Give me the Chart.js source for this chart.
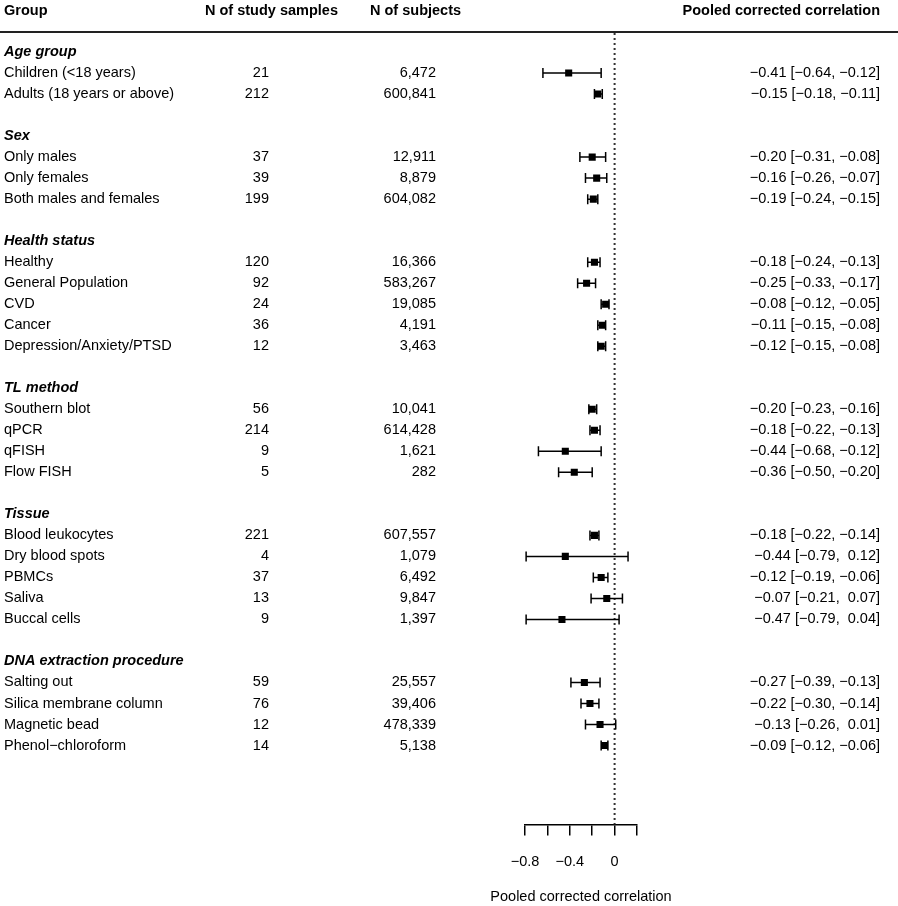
<!DOCTYPE html>
<html>
<head>
<meta charset="utf-8">
<script src="https://cdn.jsdelivr.net/npm/chart.js@4.4.1/dist/chart.umd.min.js"></script>
<style>
  html, body { margin: 0; padding: 0; background: #ffffff; }
  #wrap { width: 898px; height: 906px; }
</style>
</head>
<body>
<div id="wrap"><canvas id="c" width="898" height="906"></canvas></div>
<script>
// ---------------- DATA ----------------
const sections = ["Age group", "Sex", "Health status", "TL method", "Tissue", "DNA extraction procedure"];
const categories = [
  "Children (<18 years)", "Adults (18 years or above)",
  "Only males", "Only females", "Both males and females",
  "Healthy", "General Population", "CVD", "Cancer", "Depression/Anxiety/PTSD",
  "Southern blot", "qPCR", "qFISH", "Flow FISH",
  "Blood leukocytes", "Dry blood spots", "PBMCs", "Saliva", "Buccal cells",
  "Salting out", "Silica membrane column", "Magnetic bead", "Phenol\u2212chloroform"
];
const categorySection = [0,0, 1,1,1, 2,2,2,2,2, 3,3,3,3, 4,4,4,4,4, 5,5,5,5];
const studySamples = [21,212, 37,39,199, 120,92,24,36,12, 56,214,9,5, 221,4,37,13,9, 59,76,12,14];
const subjects = [6472,600841, 12911,8879,604082, 16366,583267,19085,4191,3463, 10041,614428,1621,282, 607557,1079,6492,9847,1397, 25557,39406,478339,5138];
const estimate = [-0.41,-0.15, -0.20,-0.16,-0.19, -0.18,-0.25,-0.08,-0.11,-0.12, -0.20,-0.18,-0.44,-0.36, -0.18,-0.44,-0.12,-0.07,-0.47, -0.27,-0.22,-0.13,-0.09];
const lower    = [-0.64,-0.18, -0.31,-0.26,-0.24, -0.24,-0.33,-0.12,-0.15,-0.15, -0.23,-0.22,-0.68,-0.50, -0.22,-0.79,-0.19,-0.21,-0.79, -0.39,-0.30,-0.26,-0.12];
const upper    = [-0.12,-0.11, -0.08,-0.07,-0.15, -0.13,-0.17,-0.05,-0.08,-0.08, -0.16,-0.13,-0.12,-0.20, -0.14, 0.12,-0.06, 0.07, 0.04, -0.13,-0.14, 0.01,-0.06];
const headers = ["Group", "N of study samples", "N of subjects", "Pooled corrected correlation"];
const xTicks = [-0.8, -0.6, -0.4, -0.2, 0, 0.2];
const xTickLabels = ["\u22120.8", "", "\u22120.4", "", "0", ""];
const xAxisTitle = "Pooled corrected correlation";

// ---------------- LAYOUT (row indices) ----------------
const sectionRow = [];
const catRow = [];
let r = 0;
sections.forEach((s, si) => {
  sectionRow.push(r); r++;
  categories.forEach((c, ci) => { if (categorySection[ci] === si) { catRow[ci] = r; r++; } });
  r++; // blank row
});

const FONT = "'Liberation Sans', Arial, Helvetica, sans-serif";
const FS = 14.5;
const MINUS = "\u2212";
function fmt(v) {
  const s = Math.abs(v).toFixed(2);
  return v < 0 ? MINUS + s : s;
}
function corrText(i) {
  return fmt(estimate[i]) + " [" + fmt(lower[i]) + ", " + (upper[i] >= 0 ? " " : "") + fmt(upper[i]) + "]";
}

const forestPlugin = {
  id: 'forest',
  beforeDatasetsDraw(chart) {
    const ctx = chart.ctx, xs = chart.scales.x, ys = chart.scales.y;
    const area = chart.chartArea;
    ctx.save();
    // dotted zero line
    ctx.strokeStyle = '#333';
    ctx.lineWidth = 2;
    ctx.setLineDash([2, 3]);
    const x0 = xs.getPixelForValue(0);
    ctx.beginPath();
    ctx.moveTo(x0, area.top);
    ctx.lineTo(x0, area.bottom);
    ctx.stroke();
    ctx.setLineDash([]);
    // CI whiskers
    ctx.strokeStyle = '#000';
    ctx.lineWidth = 1.5;
    categories.forEach((c, i) => {
      const y = ys.getPixelForValue(catRow[i]);
      const xl = xs.getPixelForValue(lower[i]);
      const xh = xs.getPixelForValue(upper[i]);
      ctx.beginPath();
      ctx.moveTo(xl, y); ctx.lineTo(xh, y);
      ctx.moveTo(xl, y - 5); ctx.lineTo(xl, y + 5);
      ctx.moveTo(xh, y - 5); ctx.lineTo(xh, y + 5);
      ctx.stroke();
    });
    ctx.restore();
  },
  afterDraw(chart) {
    const ctx = chart.ctx, ys = chart.scales.y, xs = chart.scales.x;
    ctx.save();
    ctx.fillStyle = '#000';
    ctx.textBaseline = 'middle';
    // headers
    ctx.font = "bold " + FS + "px " + FONT;
    ctx.textAlign = 'left';
    ctx.fillText(headers[0], 4, 11);
    ctx.fillText(headers[1], 205, 11);
    ctx.fillText(headers[2], 370, 11);
    ctx.textAlign = 'right';
    ctx.fillText(headers[3], 880, 11);
    // header rule
    ctx.strokeStyle = '#222';
    ctx.lineWidth = 1.8;
    ctx.beginPath();
    ctx.moveTo(0, 32); ctx.lineTo(898, 32);
    ctx.stroke();
    // section headers
    ctx.font = "italic bold " + FS + "px " + FONT;
    ctx.textAlign = 'left';
    sections.forEach((s, si) => ctx.fillText(s, 4, ys.getPixelForValue(sectionRow[si])));
    // rows
    ctx.font = FS + "px " + FONT;
    categories.forEach((c, i) => {
      const y = ys.getPixelForValue(catRow[i]);
      ctx.textAlign = 'left';
      ctx.fillText(c, 4, y);
      ctx.textAlign = 'right';
      ctx.fillText(String(studySamples[i]), 269, y);
      ctx.fillText(subjects[i].toLocaleString('en-US'), 436, y);
      ctx.fillText(corrText(i), 880, y);
    });
    // x-axis title
    ctx.textAlign = 'center';
    ctx.fillText(xAxisTitle, (xs.left + xs.right) / 2, 897);
    ctx.restore();
  }
};

new Chart(document.getElementById('c'), {
  type: 'scatter',
  data: {
    datasets: [{
      data: estimate.map((v, i) => ({ x: v, y: catRow[i] })),
      pointStyle: 'rect',
      pointRadius: 5,
      pointHoverRadius: 5,
      backgroundColor: '#000',
      borderWidth: 0
    }]
  },
  options: {
    responsive: false,
    animation: false,
    devicePixelRatio: 1,
    layout: { padding: { left: 525, right: 261, top: 33, bottom: 17 } },
    plugins: { legend: { display: false }, tooltip: { enabled: false } },
    scales: {
      x: {
        type: 'linear',
        min: -0.8, max: 0.2,
        afterBuildTicks(scale) { scale.ticks = xTicks.map(v => ({ value: v })); },
        ticks: {
          autoSkip: false, maxRotation: 0, padding: 18, color: '#000',
          font: { size: FS, family: FONT },
          callback(value) {
            const k = xTicks.findIndex(t => Math.abs(t - value) < 1e-9);
            return k >= 0 ? xTickLabels[k] : '';
          }
        },
        grid: { display: true, drawOnChartArea: false, drawTicks: true, tickLength: 11, color: '#000', lineWidth: 1.5 },
        border: { display: true, color: '#000', width: 1.5 },
        title: { display: false }
      },
      y: {
        type: 'linear', display: false, reverse: true,
        min: -0.905, max: 36.762
      }
    }
  },
  plugins: [forestPlugin]
});
</script>
</body>
</html>
